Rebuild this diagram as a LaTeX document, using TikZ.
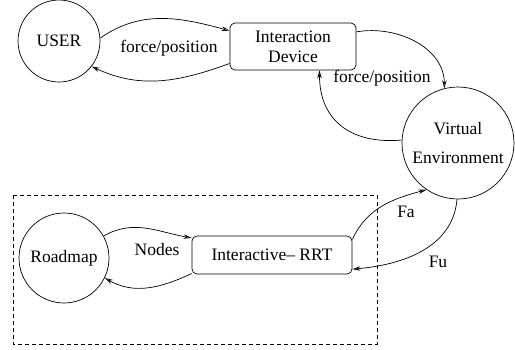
\documentclass[tikz,border=0pt]{standalone}
\usepackage{fontspec}
\setmainfont{Liberation Serif}
\usetikzlibrary{arrows.meta}

\begin{document}
\begin{tikzpicture}[x=1pt, y=-1pt, line width=0.7pt,
        every node/.style={font=\fontsize{17.5}{20}\selectfont},
        state/.style={draw, circle, inner sep=0pt},
        block/.style={draw, rectangle, rounded corners=5pt, inner sep=0pt, align=center},
        flow/.style={-{Stealth[length=8pt, width=4.5pt, open]}},
        lbl/.style={inner sep=1pt}]
                \useasboundingbox (0,0) rectangle (515,349);
                % the planner part
                \draw[dashed, dash pattern=on 4pt off 3pt, line width=0.6pt] (13,195) rectangle (377,344);
                \node[state, minimum size=82pt] (user) at (59,41) {USER};
                \node[block, minimum width=126pt, minimum height=47pt] (device) at (293,46.5) {Interaction\\Device};
                \node[state, minimum size=112pt, align=center] (virt) at (458,143) {Virtual\\[9pt]Environment};
                \node[state, minimum size=90pt] (roadmap) at (64,258) {Roadmap};
                \node[block, minimum width=160pt, minimum height=38pt] (rrt) at (272,255) {Interactive-- RRT};
                \draw[flow] (user.4) to[out=35, in=165] (device.166);
                \draw[flow] (device.195) to[out=200, in=-25] (user.322);
                \draw[flow] (device.13) to[out=10, in=90] (virt.104);
                \draw[flow] (virt.177) to[out=185, in=-90, looseness=1.2] (device.318);
                \draw[flow] (roadmap.29) to[out=30, in=170] (rrt.168);
                \draw[flow] (rrt.193) to[out=205, in=-30] (roadmap.334);
                \draw[flow] (rrt.11) to[out=65, in=195] (virt.236);
                \draw[flow] (virt.269) to[out=-95, in=5] (rrt.350);
                \node[lbl] (fp1) at (169,48) {force/position};
                \node[lbl] (fp2) at (382,78) {force/position};
                \node[lbl] (nodes) at (157,250) {Nodes};
                \node[lbl] (fa) at (406,212) {Fa};
                \node[lbl] (fu) at (438,262) {Fu};
\end{tikzpicture}
\end{document}
